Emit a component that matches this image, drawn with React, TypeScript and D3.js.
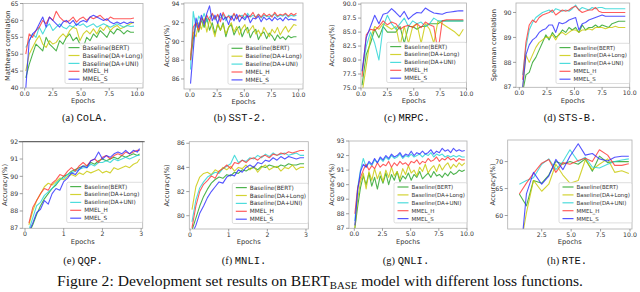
import React, { useEffect, useRef } from 'react';
import * as d3 from 'd3';

// legend order is the same in every panel
const seriesNames = ['Baseline(BERT)', 'Baseline(DA+Long)', 'Baseline(DA+UNI)', 'MMEL_H', 'MMEL_S'];
const seriesColors = ['#22a022', '#c8c800', '#22d3d3', '#ff3333', '#2a2aff'];

const ticks10 = [0, 2.5, 5, 7.5, 10];
const ticks3 = [0, 1, 2, 3];
const rteXTicks = [2.5, 5, 7.5, 10];

// (a) CoLA
const colaEpochs = [0.1, 0.4, 0.7, 1.0, 1.3, 1.6, 1.9, 2.2, 2.5, 2.8, 3.1, 3.4, 3.7, 4.0, 4.3, 4.6, 4.9, 5.2, 5.5, 5.8, 6.1, 6.4, 6.7, 7.0, 7.3, 7.6, 7.9, 8.2, 8.5, 8.8, 9.1, 9.4, 9.7];
const colaBert = [43, 47, 50, 53, 52, 51, 55, 53, 52, 51, 54, 53, 55, 56, 54, 55, 53, 52, 55, 54, 56, 55, 57, 56, 55, 57, 56, 57.5, 57, 56, 57, 56.5, 56.5];
const colaLong = [45, 50, 52, 54, 55.5, 53, 52, 54, 53, 53.5, 55, 56, 55, 57, 58, 57.5, 54, 56, 57, 56, 57.5, 56, 58, 57, 58.5, 57, 58, 58.5, 57.5, 58, 58.5, 59, 59.5];
const colaUni = [52, 54, 56, 55, 58, 56, 58, 59, 57, 58, 59, 58, 57.5, 58.5, 58, 59, 58.5, 59, 58, 58.5, 59, 58, 58.5, 59, 58.5, 58, 58.5, 59, 58.5, 58, 58.5, 58.2, 58.3];
const colaH = [50, 56, 55, 57, 58, 60, 59, 61, 60, 62.7, 61, 60, 59.5, 60, 61, 59.5, 60.5, 61, 60, 61, 60.5, 61, 61.5, 60.5, 60, 61, 60.5, 60.5, 60.5, 60.5, 60.5, 60.5, 60.7];
const colaS = [40, 54, 56, 57, 59, 61, 58, 61, 60, 59, 58, 59.5, 60, 59, 60, 58.5, 59.5, 60, 59.5, 61, 61.5, 61, 60.5, 60, 60.5, 59.5, 59, 59.5, 59, 59.5, 59, 59.5, 59.3];
const colaYTicks = [40, 45, 50, 55, 60, 65];

// (b) SST-2 and (g) QNLI share the evaluation steps
const fineEpochs = [0.05, 0.3, 0.55, 0.8, 1.05, 1.3, 1.55, 1.8, 2.05, 2.3, 2.55, 2.8, 3.05, 3.3, 3.55, 3.8, 4.05, 4.3, 4.55, 4.8, 5.05, 5.3, 5.55, 5.8, 6.05, 6.3, 6.55, 6.8, 7.05, 7.3, 7.55, 7.8, 8.05, 8.3, 8.55, 8.8, 9.05, 9.3, 9.55, 9.8];
const sstBert = [88, 90.2, 92, 91, 92.3, 91.5, 92.5, 91.2, 92, 90.8, 91.8, 91.2, 92, 90.5, 91.5, 91.8, 90.7, 91.3, 91.6, 90.5, 91.2, 91.5, 90.4, 91, 91.3, 90.2, 90.8, 91, 90.3, 90.9, 90.6, 90.1, 90.7, 90.3, 90.5, 90.2, 90.6, 90.4, 90.5, 90.5];
const sstLong = [88.5, 91, 90.5, 92, 91.3, 92.5, 91, 92.3, 91.5, 90.5, 92, 91.2, 91.8, 90.8, 91.5, 92, 91, 91.6, 90.7, 91.4, 91.8, 90.9, 91.3, 91.7, 90.8, 91.2, 90.6, 91.5, 91, 90.5, 91.3, 90.9, 91.5, 90.7, 91.2, 91.6, 91, 91.4, 91.8, 91.7];
const sstUni = [87, 93.2, 91.5, 92.7, 92.2, 93, 92.1, 92.6, 92.9, 92.3, 92.8, 92.5, 92.9, 92.2, 92.8, 92.6, 92.9, 92.4, 92.7, 92.8, 92.5, 93, 92.6, 92.8, 92.6, 92.9, 92.5, 92.8, 92.7, 92.6, 92.8, 92.9, 92.6, 92.8, 92.7, 92.9, 92.6, 92.8, 92.7, 92.8];
const sstH = [88, 91.5, 92, 91.2, 92.5, 92.1, 92.8, 92.2, 93, 92.4, 92.9, 92.1, 93.1, 92.5, 92.7, 92.3, 93, 92.4, 92.8, 92.5, 93, 92.6, 92.7, 93.1, 92.5, 92.9, 92.6, 93, 92.7, 92.9, 92.6, 93.1, 92.7, 92.9, 92.8, 93, 92.7, 93, 92.8, 93];
const sstS = [85.5, 89, 92.5, 91.5, 92.8, 91.8, 93, 93.8, 92.2, 92.8, 91.9, 93, 92.3, 92.6, 91.8, 92.7, 92.2, 92.9, 92.1, 92.6, 92.3, 92.8, 92, 92.5, 92.4, 92.7, 92.1, 92.6, 92.3, 92.5, 92.2, 92.6, 92.3, 92.5, 92.2, 92.6, 92.3, 92.4, 92.3, 92.3];
const sstYTicks = [86, 88, 90, 92, 94];

// (c) MRPC
const mrpcEpochs = [0.1, 0.5, 0.9, 1.3, 1.7, 2.1, 2.5, 2.9, 3.3, 3.7, 4.1, 4.5, 4.9, 5.3, 5.7, 6.1, 6.5, 6.9, 7.3, 7.7, 8.1, 8.5, 8.9, 9.3, 9.7];
const mrpcBert = [75.5, 81, 83, 85.5, 84, 86, 85, 85, 85, 86, 83, 86, 86, 85.5, 86, 86, 86.5, 86.5, 86.5, 87, 87, 87, 87, 87, 87];
const mrpcLong = [74, 79, 84, 86, 85.5, 86.5, 86, 85.5, 86, 82.5, 86, 83, 86, 86.5, 83, 86.5, 85.5, 83, 87, 86.5, 86, 85.5, 85, 84.3, 85.5];
const mrpcUni = [78, 82.5, 85, 83, 80, 86, 88, 86.5, 85.5, 86.5, 87.5, 86, 87, 86.5, 86.8, 86, 86.5, 87.5, 87, 87, 87, 87, 87, 87, 87];
const mrpcH = [77, 84.5, 85.5, 85.3, 86, 87, 86.3, 86.8, 86.5, 85.5, 86, 86.2, 85.8, 86.5, 85.8, 86.8, 86.3, 86, 81.5, 87, 87.2, 87.2, 87.2, 87.2, 87.2];
const mrpcS = [78, 84, 86, 88, 86.5, 88.2, 88.4, 89.2, 88.5, 87.7, 88.7, 87.3, 88, 88.5, 88.4, 89.3, 88.8, 88.4, 88.3, 88.2, 88.5, 88.6, 88.7, 88.8, 88.8];
const mrpcYTicks = [75, 77.5, 80, 82.5, 85, 87.5, 90];

// (d) STS-B
const stsEpochs = [0.3, 0.6, 0.9, 1.2, 1.5, 1.8, 2.1, 2.4, 2.7, 3.0, 3.3, 3.6, 3.9, 4.2, 4.5, 4.8, 5.1, 5.4, 5.7, 6.0, 6.3, 6.6, 6.9, 7.2, 7.5, 7.8, 8.1, 8.4, 8.7, 9.0, 9.3, 9.6];
const stsBert = [86.8, 87.5, 87.6, 88.0, 88.2, 88.5, 88.8, 89.1, 88.9, 89.2, 89.0, 89.1, 89.3, 89.2, 89.4, 89.3, 89.4, 89.2, 89.5, 89.3, 89.4, 89.4, 89.5, 89.4, 89.5, 89.45, 89.4, 89.55, 89.6, 89.65, 89.65, 89.65];
const stsLong = [86.9, 88.3, 88.0, 88.3, 88.6, 88.8, 88.9, 89.0, 89.0, 89.1, 88.9, 89.15, 89.2, 89.1, 89.2, 89.3, 89.3, 89.2, 89.3, 89.3, 89.35, 89.3, 89.4, 89.4, 89.4, 89.35, 89.4, 89.4, 89.45, 89.4, 89.4, 89.4];
const stsUni = [87.5, 88.6, 89.3, 89.6, 89.8, 89.9, 90.0, 90.05, 90.1, 90.0, 90.15, 90.1, 90.05, 90.1, 90.05, 90.15, 90.3, 90.1, 90.2, 90.15, 90.1, 90.2, 90.15, 90.2, 90.2, 90.15, 90.15, 90.15, 90.15, 90.15, 90.15, 90.15];
const stsH = [87.3, 88.8, 89.5, 89.7, 89.6, 89.8, 89.9, 89.95, 90.0, 90.1, 89.9, 90.0, 90.1, 90.05, 90.1, 90.2, 90.25, 90.1, 90.0, 90.05, 90.1, 90.1, 90.2, 90.05, 90.0, 90.0, 90.0, 90.0, 90.0, 90.0, 90.0, 90.0];
const stsS = [87.0, 88.3, 88.7, 88.9, 89.0, 89.2, 89.3, 89.35, 89.5, 89.5, 89.2, 89.6, 89.55, 89.6, 89.7, 89.75, 89.8, 89.3, 89.55, 89.6, 89.7, 89.75, 89.8, 89.85, 89.9, 89.85, 89.85, 89.85, 89.85, 89.85, 89.85, 89.85];
const stsYTicks = [87, 88, 89, 90];

// (e) QQP
const qqpEpochs = [0.1, 0.2, 0.3, 0.4, 0.5, 0.6, 0.7, 0.8, 0.9, 1.0, 1.1, 1.2, 1.3, 1.4, 1.5, 1.6, 1.7, 1.8, 1.9, 2.0, 2.1, 2.2, 2.3, 2.4, 2.5, 2.6, 2.7, 2.8, 2.9, 2.96];
const qqpBert = [86.7, 87.2, 87.8, 88.3, 88.7, 89.0, 89.3, 89.5, 89.8, 90.0, 90.1, 90.3, 90.4, 90.5, 90.6, 90.6, 90.8, 90.7, 90.9, 91.0, 90.9, 91.0, 91.1, 91.0, 91.2, 91.1, 91.2, 91.3, 91.2, 91.3];
const qqpLong = [87.2, 88.0, 88.6, 89.0, 89.4, 89.6, 89.5, 89.7, 89.9, 89.8, 90.0, 90.1, 90.0, 90.2, 90.1, 90.3, 90.2, 90.3, 90.4, 90.2, 90.3, 90.2, 90.5, 90.4, 90.5, 90.6, 90.5, 90.7, 90.8, 91.0];
const qqpUni = [86.9, 87.6, 88.3, 88.5, 88.9, 89.1, 89.3, 89.6, 89.8, 89.9, 90.1, 90.2, 90.3, 90.4, 90.5, 90.5, 90.7, 90.6, 90.8, 90.8, 90.9, 90.8, 91.0, 90.9, 91.0, 91.1, 91.0, 91.1, 91.2, 91.2];
const qqpH = [87.3, 88.2, 88.6, 89.0, 89.3, 89.2, 89.6, 89.8, 90.1, 90.0, 90.3, 90.5, 90.3, 90.6, 90.8, 90.6, 90.9, 91.0, 90.8, 91.1, 91.2, 91.0, 91.2, 91.3, 91.2, 91.4, 91.3, 91.4, 91.5, 91.5];
const qqpS = [86.8, 87.3, 87.9, 88.1, 88.6, 88.4, 89.0, 89.3, 89.2, 89.7, 89.9, 90.2, 90.1, 90.4, 90.6, 90.5, 90.9, 91.0, 91.4, 91.0, 91.2, 91.1, 91.3, 91.4, 91.3, 91.5, 91.3, 91.5, 91.4, 91.6];
const qqpYTicks = [87, 88, 89, 90, 91, 92];

// (f) MNLI
const mnliEpochs = [0.05, 0.15, 0.25, 0.35, 0.45, 0.55, 0.65, 0.75, 0.85, 0.95, 1.05, 1.15, 1.25, 1.35, 1.45, 1.55, 1.65, 1.75, 1.85, 1.95, 2.05, 2.15, 2.25, 2.35, 2.45, 2.55, 2.65, 2.75, 2.85, 2.95];
const mnliBert = [78.8, 79.8, 80.8, 81.6, 82.2, 82.7, 83.0, 83.2, 83.1, 83.4, 83.3, 83.6, 83.5, 83.8, 83.7, 83.9, 84.0, 83.8, 84.1, 84.0, 84.2, 84.1, 84.0, 84.2, 84.1, 84.3, 84.2, 84.2, 84.3, 84.3];
const mnliLong = [80.5, 82.4, 83.2, 83.5, 83.6, 83.4, 83.8, 83.6, 84.0, 83.8, 84.1, 83.7, 84.0, 83.9, 84.2, 83.8, 84.1, 83.6, 84.0, 84.2, 83.8, 84.0, 84.1, 83.7, 84.0, 83.9, 84.2, 83.8, 84.0, 84.0];
const mnliUni = [79.5, 81.3, 82.3, 82.8, 83.2, 83.4, 83.6, 83.5, 83.9, 84.1, 84.3, 85.0, 84.4, 84.6, 84.5, 84.8, 84.7, 85.0, 84.8, 85.1, 84.9, 85.2, 85.0, 85.1, 85.2, 85.0, 85.1, 85.2, 85.0, 85.0];
const mnliH = [79.0, 80.8, 82.0, 82.6, 82.9, 83.3, 83.1, 83.7, 83.9, 84.2, 83.9, 84.4, 84.3, 84.6, 84.4, 84.7, 84.8, 84.6, 84.9, 85.0, 84.8, 85.1, 85.0, 85.2, 85.1, 85.3, 85.2, 85.3, 85.4, 85.4];
const mnliS = [78.5, 79.2, 80.2, 80.8, 81.5, 82.0, 82.4, 82.8, 82.7, 83.2, 83.4, 83.3, 83.8, 83.6, 84.0, 84.2, 84.0, 84.4, 84.3, 84.6, 84.5, 84.8, 84.6, 84.9, 84.7, 84.9, 84.8, 84.7, 84.8, 84.8];
const mnliYTicks = [80, 82, 84, 86];

// (g) QNLI
const qnliBert = [87.0, 88.5, 89.8, 90.6, 90.0, 90.8, 89.9, 90.5, 89.7, 90.6, 90.1, 90.8, 90.0, 90.7, 90.3, 90.9, 90.2, 90.6, 90.4, 90.8, 90.3, 90.7, 90.5, 90.9, 90.4, 90.6, 90.8, 90.5, 90.9, 90.6, 90.7, 90.5, 90.8, 90.6, 90.9, 90.7, 90.8, 91.0, 90.9, 91.0];
const qnliLong = [87.0, 89.0, 90.2, 90.8, 89.7, 90.9, 90.3, 91.1, 90.4, 90.9, 90.2, 91.0, 90.5, 91.2, 90.6, 90.9, 90.4, 91.1, 90.7, 91.3, 90.8, 91.0, 90.6, 91.2, 90.9, 91.4, 90.8, 91.1, 91.3, 90.9, 91.4, 91.0, 91.3, 91.5, 91.1, 91.4, 91.2, 91.5, 91.3, 91.5];
const qnliUni = [87.5, 89.8, 91.0, 91.8, 91.2, 91.5, 91.3, 91.7, 91.5, 91.8, 91.6, 91.9, 91.7, 92.0, 91.8, 91.9, 92.1, 91.8, 92.0, 91.9, 92.1, 91.9, 92.0, 92.1, 91.9, 92.1, 92.0, 92.2, 91.9, 92.1, 92.0, 92.1, 91.9, 92.0, 91.9, 92.0, 91.9, 92.0, 91.9, 91.9];
const qnliH = [88.0, 89.8, 90.5, 91.0, 91.4, 91.0, 91.3, 91.1, 91.5, 91.2, 91.4, 91.3, 91.6, 91.2, 91.5, 91.3, 91.6, 91.4, 91.5, 91.3, 91.6, 91.5, 91.7, 91.4, 91.6, 91.5, 91.8, 91.6, 91.7, 91.9, 91.6, 91.8, 91.7, 91.9, 91.7, 91.8, 91.6, 91.8, 91.7, 91.7];
const qnliS = [87.2, 89.6, 90.9, 91.4, 91.2, 91.6, 91.4, 91.8, 91.5, 91.9, 91.7, 92.0, 91.8, 92.1, 91.9, 92.0, 92.2, 91.9, 92.1, 92.0, 92.3, 92.0, 92.2, 92.1, 92.3, 92.1, 92.2, 92.4, 92.1, 92.3, 92.2, 92.5, 92.3, 92.4, 92.2, 92.5, 92.3, 92.4, 92.3, 92.35];
const qnliYTicks = [87, 88, 89, 90, 91, 92, 93];

// (h) RTE
const rteEpochs = [0.6, 1.2, 1.8, 2.5, 3.1, 3.7, 4.3, 4.9, 5.6, 6.2, 6.8, 7.4, 8.1, 8.7, 9.3, 9.9];
const rteBert = [64, 61.8, 66.5, 66, 67.5, 70, 69.5, 70, 69.5, 70.5, 68.2, 71, 69.8, 70, 70, 70];
const rteLong = [53, 60.5, 66.5, 64.5, 65.8, 69.5, 67.5, 66, 66.5, 70.3, 68.5, 69.5, 70.5, 68, 68.3, 67.8];
const rteUni = [65.8, 66.5, 67, 69.5, 70.5, 68.5, 70, 72.2, 70, 70.8, 69, 68.8, 69.5, 70, 70.3, 70.5];
const rteH = [64, 66, 67.8, 69.7, 70.4, 68, 69.8, 69.5, 70.2, 70.6, 70, 72.2, 71.2, 69.3, 69.3, 69.6];
const rteS = [50, 64, 68, 65.8, 67.3, 70.4, 68.5, 71, 73.3, 71.2, 71.5, 70.5, 70.1, 70.8, 71, 71];
const rteYTicks = [60, 65, 70];

const fmtInt = d3.format('d');
const fmt1 = d3.format('.1f');

const panels = [
  { id: 'a', tag: '(a)', name: 'CoLA.', ylabel: 'Matthews correlation', epochs: colaEpochs, series: [colaBert, colaLong, colaUni, colaH, colaS],
    xDomain: [-0.15, 10.5], yDomain: [40, 65], xTicks: ticks10, xFmt: fmt1, yTicks: colaYTicks, yFmt: fmtInt,
    frame: [23, 143, 3.5, 88], legend: [65, 43.3, 143], legendFont: 6.2, ylabelX: 7.5, captionX: 85, captionY: 121 },
  { id: 'b', tag: '(b)', name: 'SST-2.', ylabel: 'Accuracy(%)', epochs: fineEpochs, series: [sstBert, sstLong, sstUni, sstH, sstS],
    xDomain: [-0.55, 10.4], yDomain: [84.93, 94.1], xTicks: ticks10, xFmt: fmt1, yTicks: sstYTicks, yFmt: fmtInt,
    frame: [184, 303, 3, 89], legend: [228, 44, 303], legendFont: 5.8, ylabelX: 167, captionX: 240, captionY: 121 },
  { id: 'c', tag: '(c)', name: 'MRPC.', ylabel: 'Accuracy(%)', epochs: mrpcEpochs, series: [mrpcBert, mrpcLong, mrpcUni, mrpcH, mrpcS],
    xDomain: [0, 10], yDomain: [75, 90.2], xTicks: ticks10, xFmt: fmt1, yTicks: mrpcYTicks, yFmt: fmt1,
    frame: [361, 466.5, 3, 88], legend: [386.7, 42.3, 466.5], legendFont: 5.7, ylabelX: 332, captionX: 407, captionY: 121 },
  { id: 'd', tag: '(d)', name: 'STS-B.', ylabel: 'Spearman correlation', epochs: stsEpochs, series: [stsBert, stsLong, stsUni, stsH, stsS],
    xDomain: [-0.3, 10], yDomain: [87, 90.38], xTicks: ticks10, xFmt: fmt1, yTicks: stsYTicks, yFmt: fmtInt,
    frame: [516, 629.7, 3, 87.3], legend: [556, 43.3, 629.7], legendFont: 5.5, ylabelX: 494, captionX: 570, captionY: 121 },
  { id: 'e', tag: '(e)', name: 'QQP.', ylabel: 'Accuracy(%)', epochs: qqpEpochs, series: [qqpBert, qqpLong, qqpUni, qqpH, qqpS],
    xDomain: [-0.06, 3.04], yDomain: [87, 92], xTicks: ticks3, xFmt: fmtInt, yTicks: qqpYTicks, yFmt: fmtInt,
    frame: [22.7, 142.7, 141.7, 228.3], legend: [66.7, 182.3, 142.7], legendFont: 5.7, ylabelX: 4.5, captionX: 83, captionY: 264, darkTop: true },
  { id: 'f', tag: '(f)', name: 'MNLI.', ylabel: 'Accuracy(%)', epochs: mnliEpochs, series: [mnliBert, mnliLong, mnliUni, mnliH, mnliS],
    xDomain: [-0.02, 3.06], yDomain: [78.9, 86.13], xTicks: ticks3, xFmt: fmtInt, yTicks: mnliYTicks, yFmt: fmtInt,
    frame: [189.3, 308.3, 141.7, 229], legend: [232.3, 183.3, 308.3], legendFont: 5.8, ylabelX: 167, captionX: 244, captionY: 264 },
  { id: 'g', tag: '(g)', name: 'QNLI.', ylabel: 'Accuracy(%)', epochs: fineEpochs, series: [qnliBert, qnliLong, qnliUni, qnliH, qnliS],
    xDomain: [-0.47, 10], yDomain: [87, 93], xTicks: ticks10, xFmt: fmt1, yTicks: qnliYTicks, yFmt: fmtInt,
    frame: [349, 467, 141, 228.3], legend: [394, 182.7, 467], legendFont: 5.5, ylabelX: 332, captionX: 406, captionY: 264 },
  { id: 'h', tag: '(h)', name: 'RTE.', ylabel: 'Accuracy(%)', epochs: rteEpochs, series: [rteBert, rteLong, rteUni, rteH, rteS],
    xDomain: [-0.39, 10.17], yDomain: [57.5, 74.0], xTicks: rteXTicks, xFmt: fmt1, yTicks: rteYTicks, yFmt: fmtInt,
    frame: [507.7, 632, 140, 229], legend: [559, 182.7, 632], legendFont: 5.5, ylabelX: 493, captionX: 567, captionY: 264 },
];

const sans = 'DejaVu Sans, sans-serif';

const App = () => {
  const ref = useRef<SVGSVGElement | null>(null);

  useEffect(() => {
    const svg = d3.select(ref.current);
    svg.selectAll('*').remove();

    panels.forEach((p) => {
      const [left, right, top, bottom] = p.frame;
      const x = d3.scaleLinear().domain(p.xDomain).range([left, right]);
      const y = d3.scaleLinear().domain(p.yDomain).range([bottom, top]);
      const g = svg.append('g');

      const clipId = `clip-${p.id}`;
      g.append('clipPath').attr('id', clipId)
        .append('rect')
        .attr('x', left).attr('y', top)
        .attr('width', right - left).attr('height', bottom - top);

      // curves
      p.series.forEach((vals, si) => {
        const line = d3.line<number>()
          .x((_, i) => x(p.epochs[i]))
          .y((d) => y(d));
        g.append('path')
          .attr('d', line(vals))
          .attr('fill', 'none')
          .attr('stroke', seriesColors[si])
          .attr('stroke-width', 1.1)
          .attr('stroke-opacity', 0.8)
          .attr('stroke-linejoin', 'round')
          .attr('clip-path', `url(#${clipId})`);
      });

      // frame
      g.append('rect')
        .attr('x', left).attr('y', top)
        .attr('width', right - left).attr('height', bottom - top)
        .attr('fill', 'none').attr('stroke', '#b0b0b0').attr('stroke-width', 0.8);
      if (p.darkTop) {
        g.append('line')
          .attr('x1', left - 4).attr('x2', right + 2)
          .attr('y1', top).attr('y2', top)
          .attr('stroke', '#444').attr('stroke-width', 0.9);
      }

      // y ticks
      p.yTicks.forEach((t) => {
        g.append('line')
          .attr('x1', left - 3).attr('x2', left)
          .attr('y1', y(t)).attr('y2', y(t))
          .attr('stroke', '#777').attr('stroke-width', 0.7);
        g.append('text')
          .attr('x', left - 4.5).attr('y', y(t)).attr('dy', '0.35em')
          .attr('text-anchor', 'end')
          .attr('font-family', sans).attr('font-size', 6.2).attr('fill', '#333')
          .text(p.yFmt(t));
      });

      // x ticks
      p.xTicks.forEach((t) => {
        g.append('line')
          .attr('x1', x(t)).attr('x2', x(t))
          .attr('y1', bottom).attr('y2', bottom + 2.5)
          .attr('stroke', '#777').attr('stroke-width', 0.7);
        g.append('text')
          .attr('x', x(t)).attr('y', bottom + 6).attr('dy', '0.35em')
          .attr('text-anchor', 'middle')
          .attr('font-family', sans).attr('font-size', 6.2).attr('fill', '#333')
          .text(p.xFmt(t));
      });

      // axis titles
      g.append('text')
        .attr('x', (left + right) / 2).attr('y', bottom + 13).attr('dy', '0.35em')
        .attr('text-anchor', 'middle')
        .attr('font-family', sans).attr('font-size', 6.7).attr('fill', '#333')
        .text('Epochs');
      g.append('text')
        .attr('transform', `translate(${p.ylabelX},${(top + bottom) / 2}) rotate(-90)`)
        .attr('dy', '0.35em')
        .attr('text-anchor', 'middle')
        .attr('font-family', sans).attr('font-size', 6.7).attr('fill', '#333')
        .text(p.ylabel);

      // legend
      const [lx, ly, lr] = p.legend;
      const rowH = 7.9;
      const lg = g.append('g');
      lg.append('rect')
        .attr('x', lx).attr('y', ly)
        .attr('width', lr - lx).attr('height', rowH * 4 + 8.6)
        .attr('rx', 1.5)
        .attr('fill', '#fff').attr('fill-opacity', 0.9)
        .attr('stroke', '#d0d0d0').attr('stroke-width', 0.7);
      seriesNames.forEach((name, si) => {
        const ry = ly + 4.3 + si * rowH;
        lg.append('line')
          .attr('x1', lx + 3.5).attr('x2', lx + 14.5)
          .attr('y1', ry).attr('y2', ry)
          .attr('stroke', seriesColors[si]).attr('stroke-opacity', 0.8).attr('stroke-width', 1.2);
        lg.append('text')
          .attr('x', lx + 17.5).attr('y', ry).attr('dy', '0.35em')
          .attr('font-family', sans).attr('font-size', p.legendFont).attr('fill', '#333')
          .text(name);
      });

      // sub-caption
      const cap = g.append('text')
        .attr('x', p.captionX).attr('y', p.captionY)
        .attr('text-anchor', 'middle')
        .attr('font-size', 10.5).attr('fill', '#111');
      cap.append('tspan').attr('font-family', 'Liberation Serif, serif').text(`${p.tag} `);
      cap.append('tspan').attr('font-family', 'Liberation Mono, monospace').text(p.name);
    });

    // figure caption, stretched to the width it has in the paper
    const fig = svg.append('text')
      .attr('x', 57).attr('y', 286)
      .attr('textLength', 526).attr('lengthAdjust', 'spacingAndGlyphs')
      .attr('font-family', 'Liberation Serif, serif')
      .attr('font-size', 14.5).attr('fill', '#111');
    fig.append('tspan').text('Figure 2: Development set results on BERT');
    fig.append('tspan').attr('font-size', 10).attr('dy', 2.5).text('BASE');
    fig.append('tspan').attr('dy', -2.5).text(' model with different loss functions.');
  }, []);

  return (
    <svg
      ref={ref}
      width={640}
      height={292}
      style={{ position: 'absolute', left: 0, top: 0, background: '#fff' }}
    />
  );
};

export default App;
